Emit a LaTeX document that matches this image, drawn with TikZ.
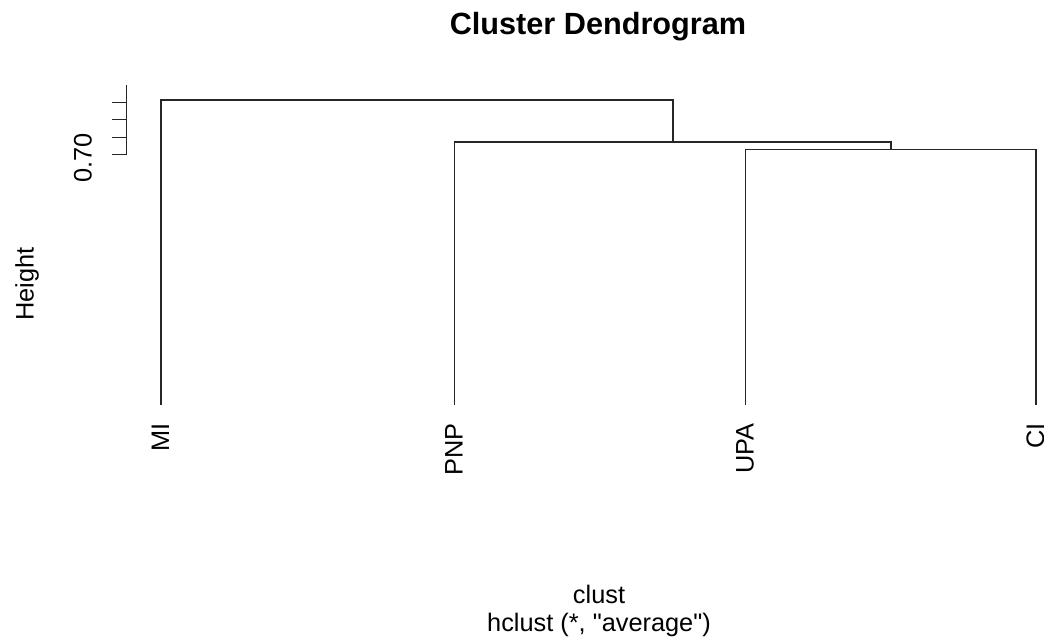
\documentclass[tikz,border=0pt]{standalone}
\usepackage{fontspec}
\setmainfont{Liberation Sans}
% same face without the TeX character mapping, so that " stays straight
\newfontfamily\plainsans{Liberation Sans}
\begin{document}
\begin{tikzpicture}[x=0.75pt,y=-0.75pt,
  branch/.style={line width=0.8pt, draw=black!85},
  lab/.style={font=\fontsize{19}{22}\selectfont, inner sep=0pt},
  leaflab/.style={lab, rotate=90, anchor=base east}]
\useasboundingbox (0,0) rectangle (1044,639);

% title
\node[font=\fontsize{23}{27}\selectfont\bfseries, inner sep=0pt, anchor=base]
  (title) at (598,34) {Cluster Dendrogram};

% leaves
\coordinate (mi)  at (161,405);
\coordinate (pnp) at (454.5,405);
\coordinate (upa) at (745.5,405);
\coordinate (ci)  at (1036,405);

% merge heights
\coordinate (k3) at (891,149.5);
\coordinate (k2) at (673,142);
\coordinate (k1) at (417,100);

\draw[branch] (upa) |- (k3) -| (ci);
\draw[branch] (pnp) |- (k2) -| (k3);
\draw[branch] (mi) |- (k1) -| (k2);

% leaf labels
\node[leaflab] (lmi)  at (169,423)    {MI};
\node[leaflab] (lpnp) at (462.5,423)  {PNP};
\node[leaflab] (lupa) at (753.5,423)  {UPA};
\node[leaflab] (lci)  at (1044,423)   {CI};

% height axis
\coordinate (axtop) at (126.7,84.5);
\coordinate (axbot) at (126.7,154.3);
\draw[branch] (axtop) -- (axbot);
\foreach \y in {102.3,119.7,137.3,154.3}
  \draw[branch] (126.7,\y) -- ++(-15,0);
\node[lab, rotate=90, anchor=base] (t070) at (91.7,158) {0.70};
\node[lab, rotate=90, anchor=base] (ylab) at (33.5,284) {Height};

% x-axis captions
\node[lab, anchor=base] (xlab) at (599,603) {clust};
\node[lab, anchor=base] (sub)  at (599,631.5) {\plainsans hclust (*, "average")};
\end{tikzpicture}
\end{document}
